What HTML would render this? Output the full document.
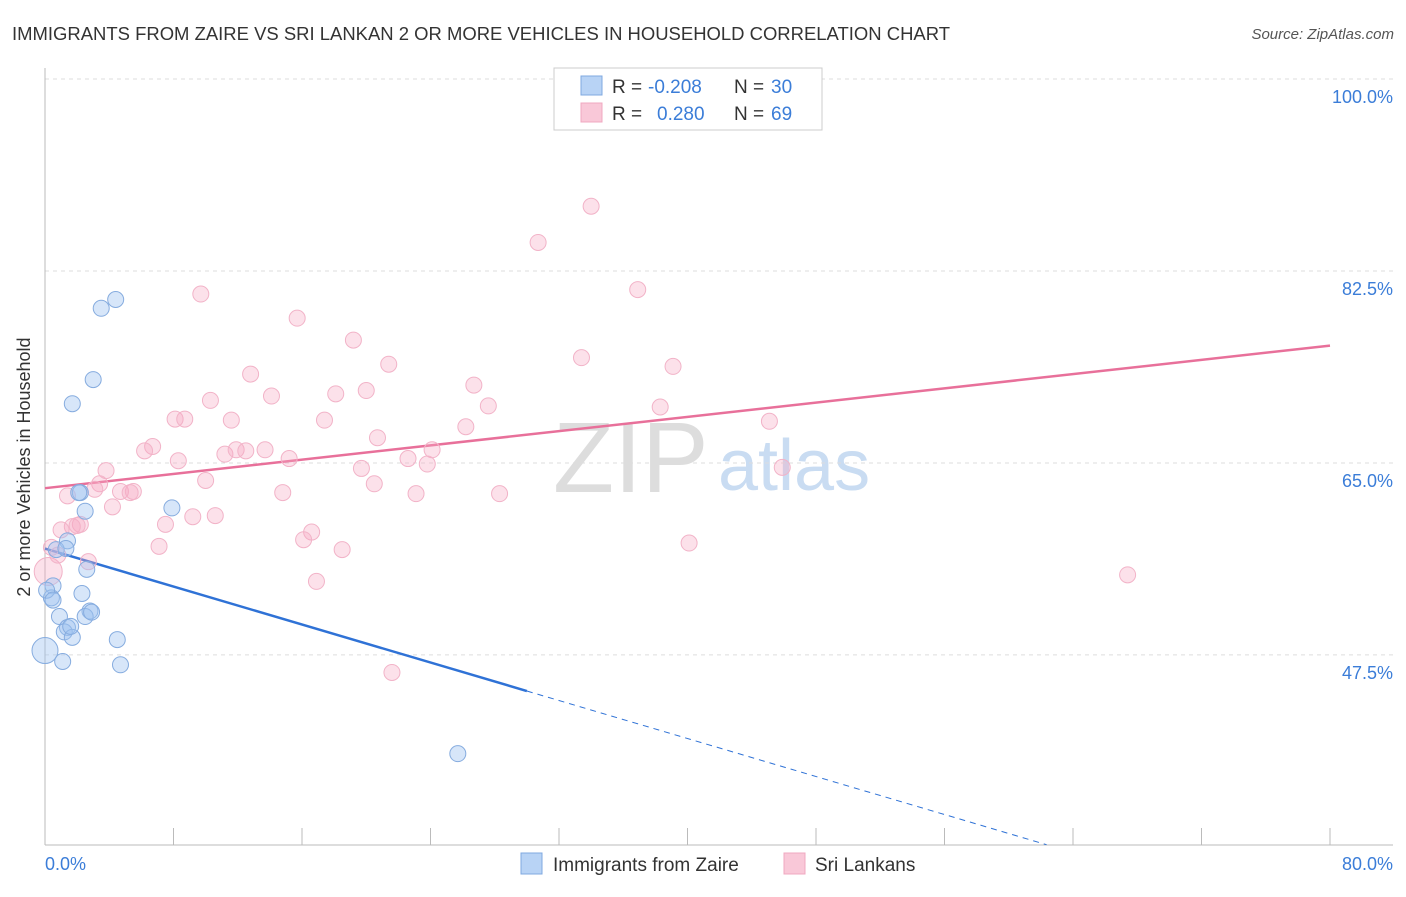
<!DOCTYPE html>
<html><head><meta charset="utf-8"><style>
body{margin:0;background:#fff;font-family:"Liberation Sans",sans-serif;}
svg text{font-family:"Liberation Sans",sans-serif;}
</style></head><body>
<svg id="chart" width="1406" height="892" viewBox="0 0 1406 892">
<text x="12" y="40" font-size="18" fill="#333" textLength="938" lengthAdjust="spacingAndGlyphs">IMMIGRANTS FROM ZAIRE VS SRI LANKAN 2 OR MORE VEHICLES IN HOUSEHOLD CORRELATION CHART</text>
<text x="1394" y="39" font-size="15" fill="#555" font-style="italic" text-anchor="end">Source: ZipAtlas.com</text>
<g>
<text x="553" y="492" font-size="100" fill="#ddd" font-family="Liberation Serif, serif">ZIP</text>
<text x="718" y="490" font-size="72" fill="#c9dcf2">atlas</text>
</g>
<g id="grid"></g>
<g id="axes"></g>
<g id="lines"></g>
<g id="pts"></g>
<text x="18" y="455" font-size="18" fill="#333" transform="rotate(-90 30 455)" text-anchor="middle">2 or more Vehicles in Household</text>
<g>
<rect x="554" y="68" width="268" height="62" fill="#fff" stroke="#ccc"/>
<rect x="581" y="76" width="21" height="19" fill="#b8d3f5" stroke="#7fa8e0"/>
<rect x="581" y="103" width="21" height="19" fill="#f9c8d8" stroke="#f0a8c0"/>
<g font-size="19">
<text x="612" y="93" fill="#333">R =</text><text x="648" y="93" fill="#3b7dd8">-0.208</text>
<text x="734" y="93" fill="#333">N =</text><text x="771" y="93" fill="#3b7dd8">30</text></g>
<g font-size="19">
<text x="612" y="120" fill="#333">R =</text><text x="657" y="120" fill="#3b7dd8">0.280</text>
<text x="734" y="120" fill="#333">N =</text><text x="771" y="120" fill="#3b7dd8">69</text></g>
</g>
<g>
<rect x="521" y="853" width="21" height="21" fill="#b8d3f5" stroke="#7fa8e0"/>
<text x="553" y="871" font-size="19" fill="#333">Immigrants from Zaire</text>
<rect x="784" y="853" width="21" height="21" fill="#f9c8d8" stroke="#f0a8c0"/>
<text x="815" y="871" font-size="19" fill="#333">Sri Lankans</text>
</g>
</svg>
<script>
const yTicks=[100,82.5,65,47.5];
const yTickLabels=["100.0%","82.5%","65.0%","47.5%"];
const xTicks=[0,8,16,24,32,40,48,56,64,72,80];
const blueX=[4.4,3.5,3.0,1.7,2.2,2.5,7.9,1.4,0.7,2.6,0.5,0.4,2.3,0.9,2.8,2.5,1.4,1.2,1.7,4.5,0.0,1.1,4.7,25.7,2.1,0.1,2.9,1.3,1.6,0.5];
const blueY=[79.9,79.1,72.6,70.4,62.3,60.6,60.9,57.9,57.1,55.3,53.8,52.7,53.1,51.0,51.5,51.0,50.0,49.6,49.1,48.9,47.9,46.9,46.6,38.5,62.3,53.4,51.4,57.2,50.1,52.5];
const blueR=[8,8,8,8,8,8,8,8,8,8,8,8,8,8,8,8,8,8,8,8,13,8,8,8,8,8,8,8,8,8];
const pinkX=[34.0,30.7,9.7,36.9,15.7,19.2,21.4,33.4,39.1,12.8,26.7,18.1,20.0,10.3,14.1,27.6,38.3,8.1,8.7,11.6,17.4,45.1,26.2,20.7,6.7,6.2,11.2,11.9,12.5,13.7,24.1,8.3,15.2,22.6,23.8,19.7,45.9,3.8,10.0,3.4,3.1,20.5,4.7,5.5,14.8,23.1,28.3,1.4,4.2,10.6,9.2,7.5,2.2,1.7,1.0,16.6,16.1,7.1,40.1,18.5,0.4,2.7,16.9,67.4,21.6,0.2,0.8,2.0,5.3];
const pinkY=[88.4,85.1,80.4,80.8,78.2,76.2,74.0,74.6,73.8,73.1,72.1,71.3,71.6,70.7,71.1,70.2,70.1,69.0,69.0,68.9,68.9,68.8,68.3,67.3,66.5,66.1,65.8,66.2,66.1,66.2,66.2,65.2,65.4,65.4,64.9,64.5,64.6,64.3,63.4,63.1,62.6,63.1,62.4,62.4,62.3,62.2,62.2,62.0,61.0,60.2,60.1,59.4,59.4,59.2,58.9,58.7,58.0,57.4,57.7,57.1,57.3,56.0,54.2,54.8,45.9,55.1,56.6,59.3,62.3];
const blueTrend=[57.2,-0.433];
const pinkTrend=[62.7,0.1625];
const NS="http://www.w3.org/2000/svg";
function sx(v){return 45+v*16.0625;}
function sy(v){return 79+(100-v)*10.97;}
function mk(t,a,p){const e=document.createElementNS(NS,t);for(const k in a)e.setAttribute(k,a[k]);p.appendChild(e);return e;}
const grid=document.getElementById('grid'),axes=document.getElementById('axes'),lines=document.getElementById('lines'),pts=document.getElementById('pts');
yTicks.forEach((v,i)=>{
 const l=mk('line',{x1:45,x2:1393,y1:sy(v),y2:sy(v),stroke:'#ddd','stroke-dasharray':'4,4'},grid);
 
 
 const t=mk('text',{x:1393,y:sy(v)+24,'font-size':18,fill:'#3b7dd8','text-anchor':'end'},axes);
 t.textContent=yTickLabels[i];
 
 
});
const xl=mk('line',{x1:45,x2:1393,y1:845,y2:845,stroke:'#bbb'},axes);


const yl=mk('line',{x1:45,x2:45,y1:68,y2:845,stroke:'#bbb'},axes);


xTicks.forEach(v=>{
 const t=mk('line',{x1:sx(v),x2:sx(v),y1:828,y2:845,stroke:'#bbb'},axes);
 
 
});
const x0=mk('text',{x:45,y:870,'font-size':18,fill:'#3b7dd8'},axes);x0.textContent='0.0%';


const x1=mk('text',{x:1393,y:870,'font-size':18,fill:'#3b7dd8','text-anchor':'end'},axes);x1.textContent='80.0%';


function pt(x,y,r,fill,stroke){
 return mk('circle',{cx:sx(x),cy:sy(y),r:r,fill:fill,stroke:stroke,'stroke-width':1},pts);
}
pinkX.forEach((x,i)=>{const c=pt(x,pinkY[i],i==65?14:8,'rgba(246,170,196,0.35)','#f2b3c8');
 
 });
blueX.forEach((x,i)=>{const c=pt(x,blueY[i],blueR[i],'rgba(160,196,240,0.42)','#86acdf');
 
 });
const pl=mk('line',{x1:sx(0),y1:sy(pinkTrend[0]),x2:sx(80),y2:sy(pinkTrend[0]+pinkTrend[1]*80),stroke:'#e8709a','stroke-width':2.5},lines);


const bl=mk('line',{x1:sx(0),y1:sy(blueTrend[0]),x2:sx(30),y2:sy(blueTrend[0]+blueTrend[1]*30),stroke:'#2f72d6','stroke-width':2.5},lines);


const xe=(30.2-blueTrend[0])/blueTrend[1];
const bd=mk('line',{x1:sx(30),y1:sy(blueTrend[0]+blueTrend[1]*30),x2:sx(xe),y2:sy(30.2),stroke:'#2f72d6','stroke-width':1,'stroke-dasharray':'6,5'},lines);


</script>
</body></html>
